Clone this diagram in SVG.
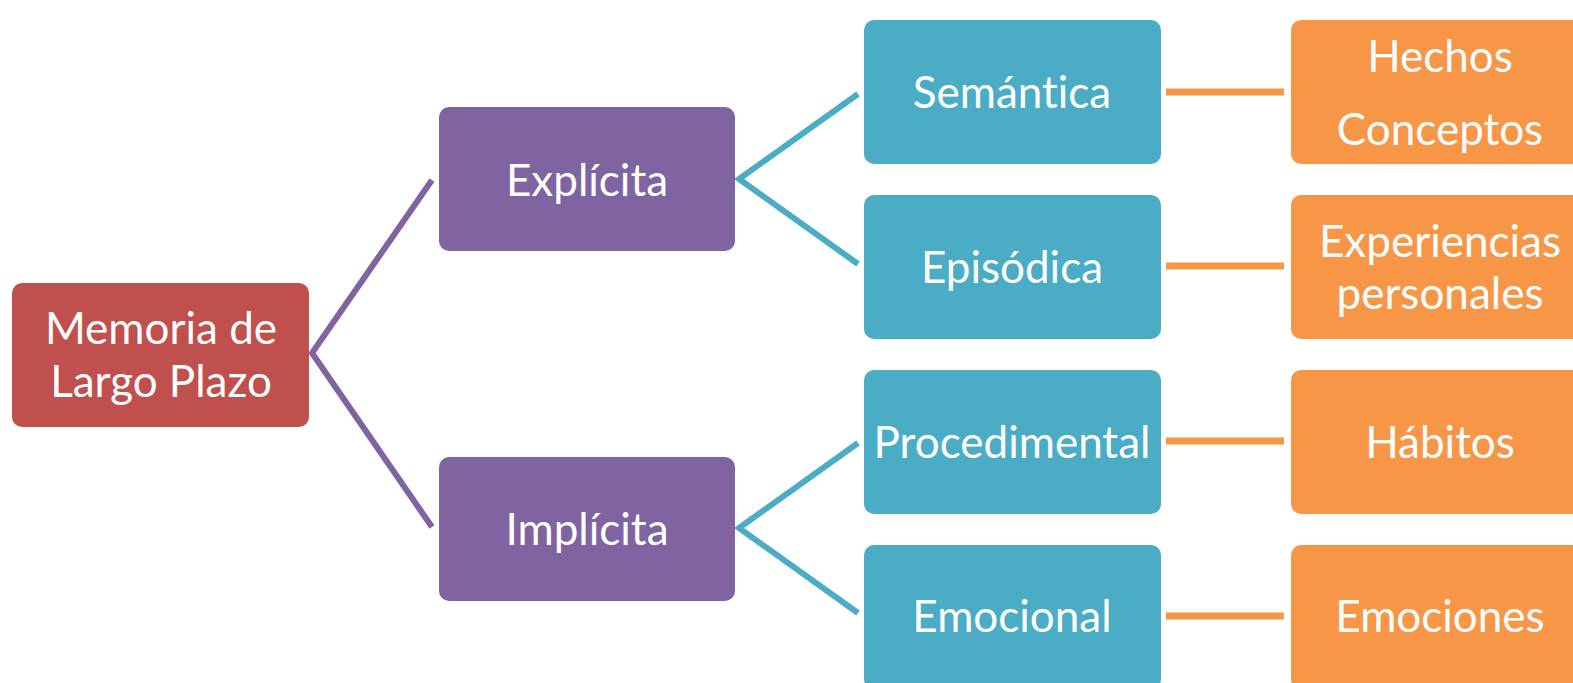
<svg xmlns="http://www.w3.org/2000/svg" width="1573" height="683" viewBox="0 0 1573 683">
<style>
.t{font-family:Lato,"Open Sans","Liberation Sans",sans-serif;font-size:44px;fill:#fff;text-anchor:middle;dominant-baseline:central;font-variant-ligatures:none}
.red{fill:#C0504D}.pur{fill:#8064A2}.blu{fill:#4BACC6}.org{fill:#F79646}
.cp{stroke:#8064A2;stroke-width:6;fill:none}
.cb{stroke:#4BACC6;stroke-width:6;fill:none}
.co{stroke:#F79646;stroke-width:7;fill:none}
</style>
<g id="connectors">
<path class="cp" d="M432,180 L312,353 L432,527"/>
<path class="cb" d="M858,94 L739,179 L858,264"/>
<path class="cb" d="M858,443 L739,528 L858,613"/>
<line class="co" x1="1166" y1="92" x2="1284" y2="92"/>
<line class="co" x1="1166" y1="266" x2="1284" y2="266"/>
<line class="co" x1="1166" y1="441" x2="1284" y2="441"/>
<line class="co" x1="1166" y1="616" x2="1284" y2="616"/>
</g>
<g id="memoria"><rect class="red" x="12" y="283" width="297" height="144" rx="10"/><text class="t" x="161" y="327">Memoria de</text><text class="t" x="161" y="380">Largo Plazo</text></g>
<g id="explicita"><rect class="pur" x="439" y="107" width="296" height="144" rx="10"/><text class="t" x="587" y="179">Explícita</text></g>
<g id="implicita"><rect class="pur" x="439" y="457" width="296" height="144" rx="10"/><text class="t" x="587" y="528">Implícita</text></g>
<g id="semantica"><rect class="blu" x="864" y="20" width="297" height="144" rx="10"/><text class="t" x="1012" y="91">Semántica</text></g>
<g id="episodica"><rect class="blu" x="864" y="195" width="297" height="144" rx="10"/><text class="t" x="1012" y="266">Episódica</text></g>
<g id="procedimental"><rect class="blu" x="864" y="370" width="297" height="144" rx="10"/><text class="t" x="1012" y="441">Procedimental</text></g>
<g id="emocional"><rect class="blu" x="864" y="545" width="297" height="144" rx="10"/><text class="t" x="1012" y="615">Emocional</text></g>
<g id="hechos"><rect class="org" x="1291" y="20" width="300" height="144" rx="10"/><text class="t" x="1440" y="55">Hechos</text><text class="t" x="1440" y="128">Conceptos</text></g>
<g id="experiencias"><rect class="org" x="1291" y="195" width="300" height="144" rx="10"/><text class="t" x="1440" y="240">Experiencias</text><text class="t" x="1440" y="292">personales</text></g>
<g id="habitos"><rect class="org" x="1291" y="370" width="300" height="144" rx="10"/><text class="t" x="1440" y="441">Hábitos</text></g>
<g id="emociones"><rect class="org" x="1291" y="545" width="300" height="144" rx="10"/><text class="t" x="1440" y="615">Emociones</text></g>
</svg>
